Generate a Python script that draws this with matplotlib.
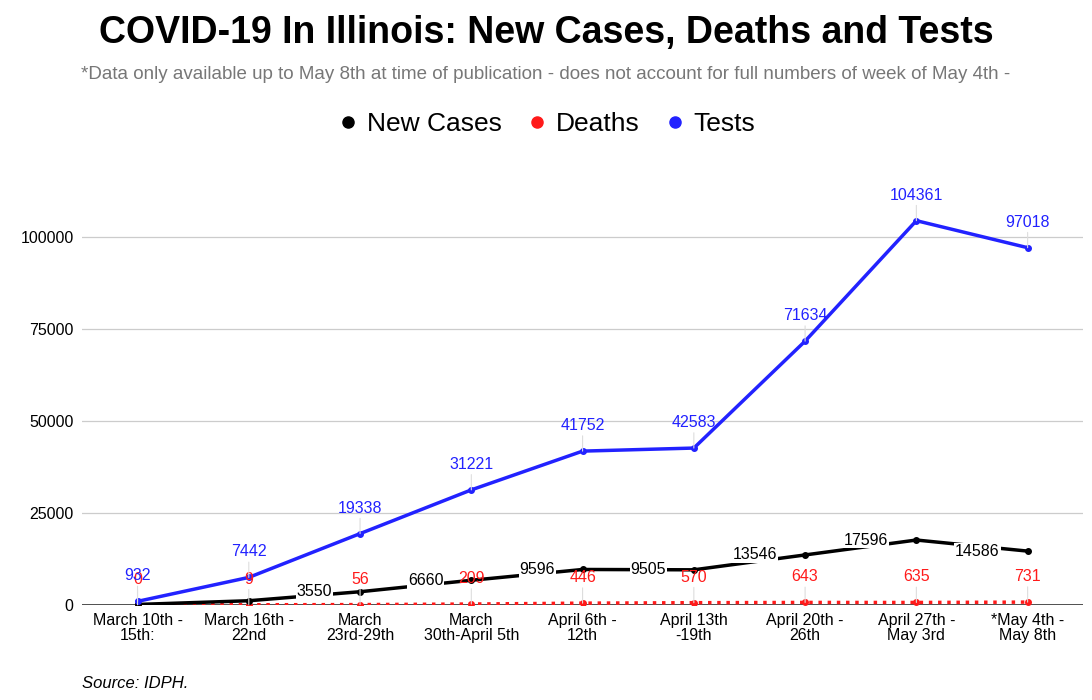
import numpy as np
import matplotlib.pyplot as plt

plt.rcParams['font.family'] = ['Liberation Sans', 'DejaVu Sans']

# data
weeks = ['March 10th -\n15th:', 'March 16th -\n22nd', 'March\n23rd-29th',
         'March\n30th-April 5th', 'April 6th -\n12th', 'April 13th\n-19th',
         'April 20th -\n26th', 'April 27th -\nMay 3rd', '*May 4th -\nMay 8th']
new_cases = [93, 1100, 3550, 6660, 9596, 9505, 13546, 17596, 14586]
deaths = [0, 9, 56, 209, 446, 570, 643, 635, 731]
tests = [932, 7442, 19338, 31221, 41752, 42583, 71634, 104361, 97018]
yticks = [0, 25000, 50000, 75000, 100000]

BLUE = '#2222ff'
RED = '#ff1a1a'

fig = plt.figure(figsize=(10.92, 7), dpi=100)
ax = fig.add_axes([0.075, 0.136, 0.917, 0.631])

x = np.arange(len(weeks))

ax.plot(x, deaths, ':', color=RED, lw=2.5, marker='o', ms=4, zorder=3)
ax.plot(x, new_cases, '-', color='black', lw=2.5, marker='o', ms=4, zorder=4)
ax.plot(x, tests, '-', color=BLUE, lw=2.5, marker='o', ms=4, zorder=5)

# tests labels above points with thin leader lines
for xi, v in zip(x, tests):
    ax.annotate(str(v), (xi, v), xytext=(0, 13), textcoords='offset points',
                ha='center', va='bottom', color=BLUE, fontsize=11.5, zorder=6,
                arrowprops=dict(arrowstyle='-', color='#dddddd', lw=0.8,
                                shrinkA=0, shrinkB=0))

# deaths labels, fixed offset above the points
for xi, v in zip(x, deaths):
    ax.annotate(str(v), (xi, v), xytext=(0, 13), textcoords='offset points',
                ha='center', va='bottom', color=RED, fontsize=11.5, zorder=5.5,
                arrowprops=dict(arrowstyle='-', color='#dddddd', lw=0.8,
                                shrinkA=0, shrinkB=0))

# new cases labels to the left of the points
for xi, v in list(zip(x, new_cases))[2:]:
    ax.annotate(str(v), (xi, v), xytext=(-20, 0), textcoords='offset points',
                ha='right', va='center', color='black', fontsize=11.5, zorder=6,
                bbox=dict(boxstyle='square,pad=0.05', fc='white', ec='none'))

ax.set_xlim(-0.5, 8.5)
ax.set_ylim(0, 120000)
ax.set_yticks(yticks)
ax.set_yticklabels([str(t) for t in yticks], fontsize=11.5)
ax.set_xticks(x)
ax.set_xticklabels(weeks, fontsize=11.5, linespacing=1.0)
ax.tick_params(length=0, pad=6)
ax.grid(axis='y', color='#cccccc', lw=0.9)
ax.set_axisbelow(True)
for s in ax.spines.values():
    s.set_visible(False)
ax.axhline(0, color='#333333', lw=1.2, zorder=2)

fig.text(0.5, 0.953, 'COVID-19 In Illinois: New Cases, Deaths and Tests',
         ha='center', va='center', fontsize=27, fontweight='bold')
fig.text(0.5, 0.893, '*Data only available up to May 8th at time of publication - '
         'does not account for full numbers of week of May 4th -',
         ha='center', va='center', fontsize=13.5, color='#777777')

# legend
handles = [plt.Line2D([], [], ls='', marker='o', ms=8, color=c)
           for c in ['black', RED, BLUE]]
fig.legend(handles, ['New Cases', 'Deaths', 'Tests'], loc='center',
           bbox_to_anchor=(0.5, 0.823), ncol=3, frameon=False, fontsize=19,
           handlelength=0.9, handletextpad=0.25, columnspacing=0.9)

fig.text(0.075, 0.024, 'Source: IDPH.', ha='left', va='center',
         fontsize=12, style='italic')

fig.savefig('out.png', dpi=100)
